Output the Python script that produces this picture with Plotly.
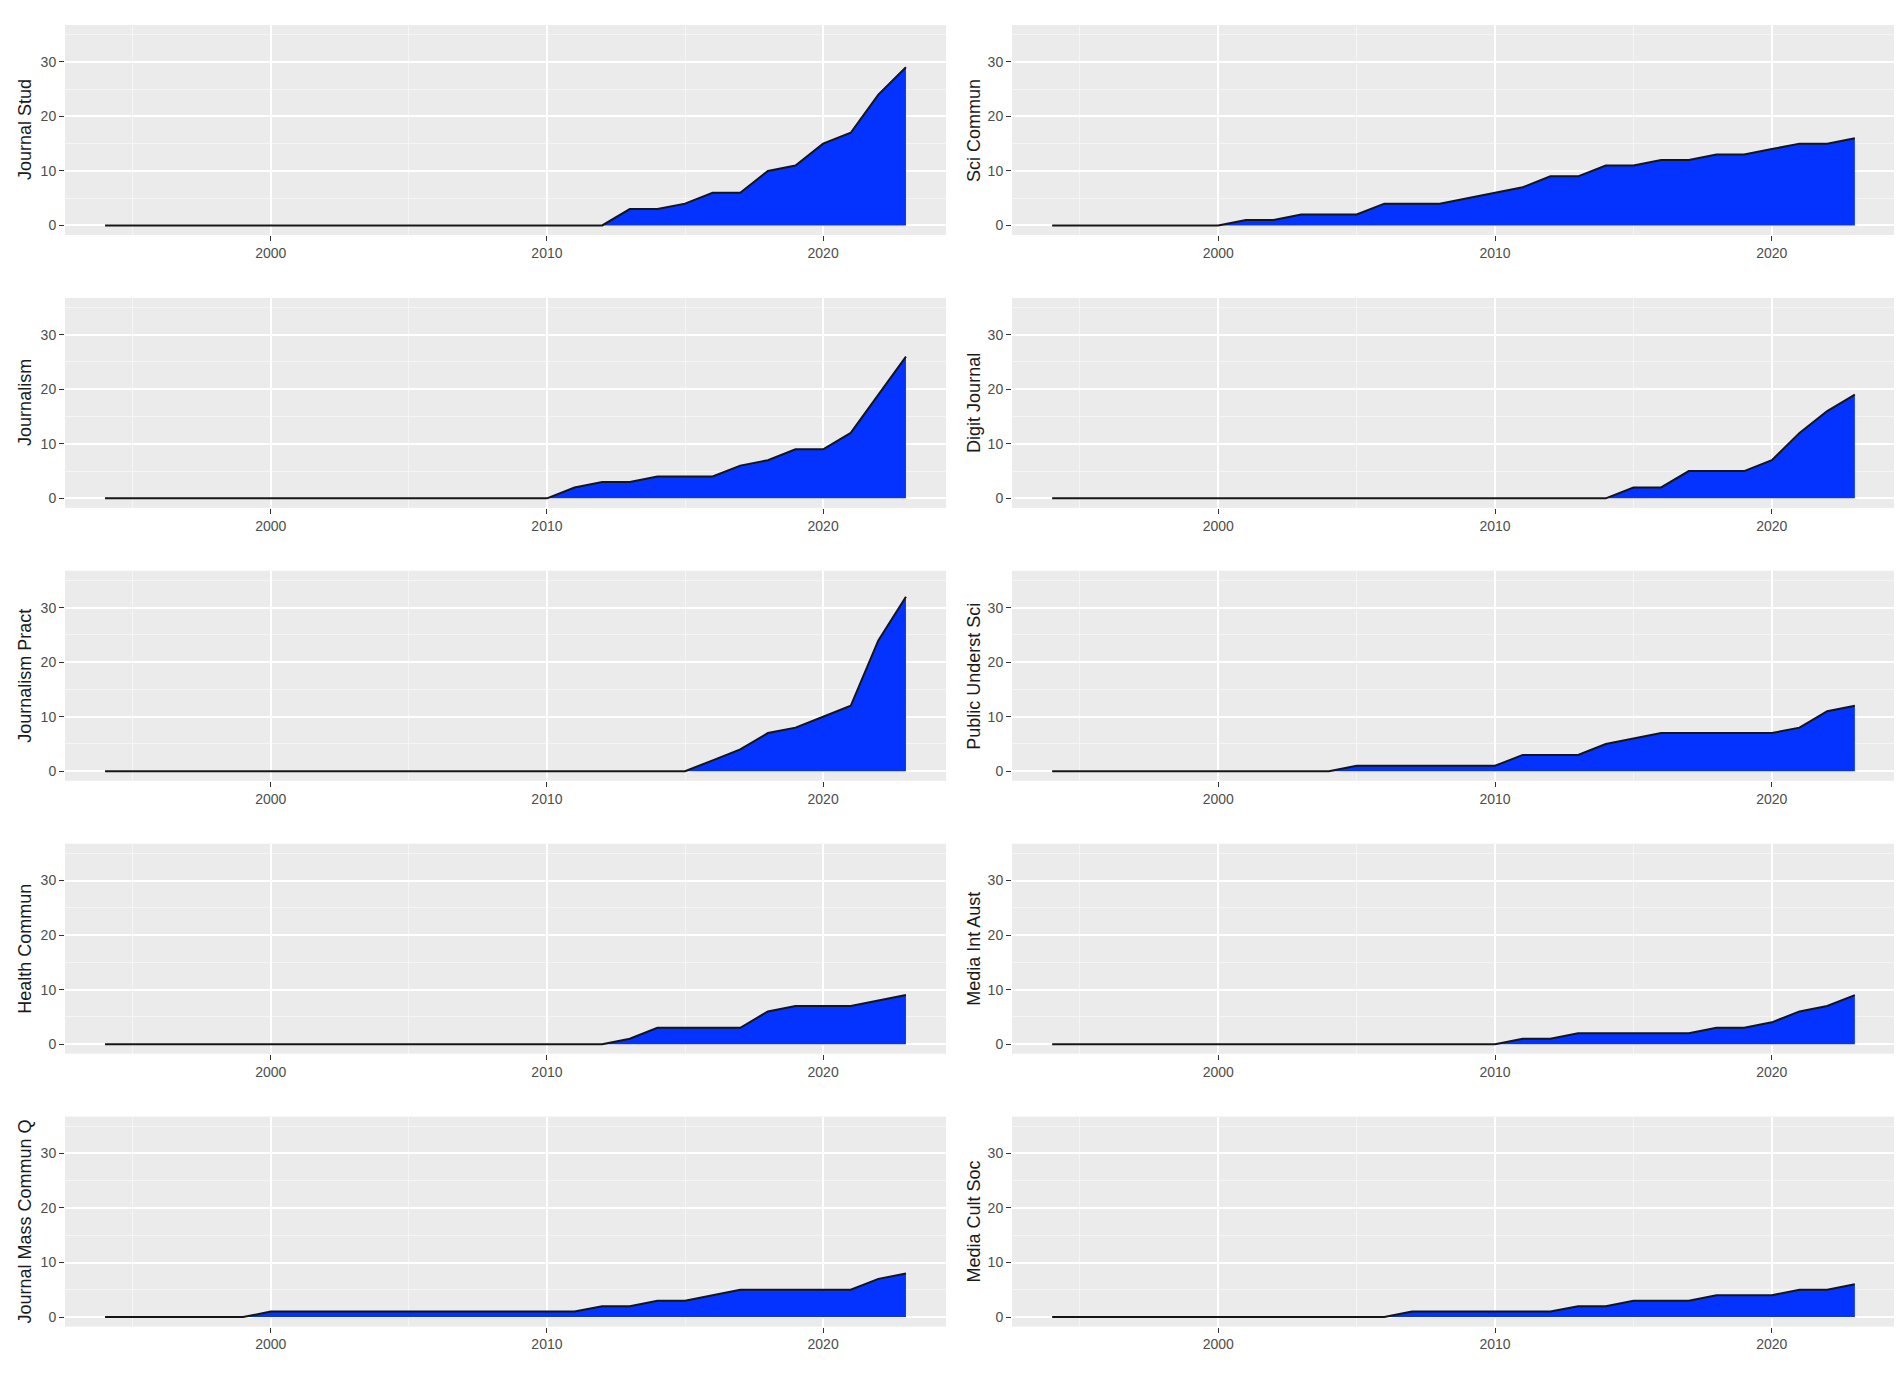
import plotly.graph_objects as go

W, H = 1902, 1375

years = list(range(1994, 2024))

journals = [
    "Journal Stud", "Sci Commun",
    "Journalism", "Digit Journal",
    "Journalism Pract", "Public Underst Sci",
    "Health Commun", "Media Int Aust",
    "Journal Mass Commun Q", "Media Cult Soc",
]

# cumulative counts, 1994..2023
journal_stud = [0]*19 + [3, 3, 4, 6, 6, 10, 11, 15, 17, 24, 29]
sci_commun = [0]*7 + [1, 1, 2, 2, 2, 4, 4, 4, 5, 6, 7, 9, 9, 11, 11, 12, 12, 13, 13, 14, 15, 15, 16]
journalism = [0]*17 + [2, 3, 3, 4, 4, 4, 6, 7, 9, 9, 12, 19, 26]
digit_journal = [0]*21 + [2, 2, 5, 5, 5, 7, 12, 16, 19]
journalism_pract = [0]*22 + [2, 4, 7, 8, 10, 12, 24, 32]
public_underst_sci = [0]*11 + [1, 1, 1, 1, 1, 1, 3, 3, 3, 5, 6, 7, 7, 7, 7, 7, 8, 11, 12]
health_commun = [0]*19 + [1, 3, 3, 3, 3, 6, 7, 7, 7, 8, 9]
media_int_aust = [0]*17 + [1, 1, 2, 2, 2, 2, 2, 3, 3, 4, 6, 7, 9]
journal_mass_commun_q = [0]*6 + [1]*12 + [2, 2, 3, 3, 4, 5, 5, 5, 5, 5, 7, 8]
media_cult_soc = [0]*13 + [1]*6 + [2, 2, 3, 3, 3, 4, 4, 4, 5, 5, 6]

series = [journal_stud, sci_commun, journalism, digit_journal, journalism_pract,
          public_underst_sci, health_commun, media_int_aust,
          journal_mass_commun_q, media_cult_soc]

x_ticks = [2000, 2010, 2020]
y_ticks = [0, 10, 20, 30]

fig = go.Figure()

col_px = [(57, 938), (1004, 1887)]
title_x_px = [17, 966]
row_top0, row_step, row_h = 17, 272.9, 210

layout_axes = {}
annotations = []
tick_font = dict(family="Liberation Sans, Arial", size=14, color="#4D4D4D")
for i, (name, vals) in enumerate(zip(journals, series)):
    r, c = divmod(i, 2)
    idx = i + 1
    xa = "x" if idx == 1 else f"x{idx}"
    ya = "y" if idx == 1 else f"y{idx}"
    fig.add_trace(go.Scatter(
        x=years, y=vals, mode="lines",
        line=dict(color="#151515", width=2),
        fill="tozeroy", fillcolor="#0433FF",
        xaxis=xa, yaxis=ya, showlegend=False, hoverinfo="x+y",
    ))
    top = row_top0 + r * row_step
    bot = top + row_h
    x0, x1 = col_px[c]
    xkey = "xaxis" if idx == 1 else f"xaxis{idx}"
    ykey = "yaxis" if idx == 1 else f"yaxis{idx}"
    layout_axes[xkey] = dict(
        domain=[x0 / W, x1 / W], anchor=ya,
        range=[1992.55, 2024.45], tickvals=x_ticks,
        showgrid=True, gridcolor="white", gridwidth=1.6,
        minor=dict(tickvals=[1995, 2005, 2015], showgrid=True,
                   gridcolor="#F5F5F5", gridwidth=0.8, ticks=""),
        zeroline=False, showline=False,
        ticks="outside", ticklen=5, tickwidth=1.2, tickcolor="#333333",
        tickfont=tick_font,
    )
    layout_axes[ykey] = dict(
        domain=[1 - bot / H, 1 - top / H], anchor=xa,
        range=[-1.75, 36.75], tickvals=y_ticks,
        showgrid=True, gridcolor="white", gridwidth=1.6,
        minor=dict(tickvals=[5, 15, 25, 35], showgrid=True,
                   gridcolor="#F5F5F5", gridwidth=0.8, ticks=""),
        zeroline=False, showline=False,
        ticks="outside", ticklen=5, tickwidth=1.2, tickcolor="#333333",
        tickfont=tick_font,
    )
    annotations.append(dict(
        text=name, xref="paper", yref="paper",
        x=title_x_px[c] / W, y=1 - (top + bot) / 2 / H,
        xanchor="center", yanchor="middle", textangle=-90, showarrow=False,
        font=dict(family="Liberation Sans, Arial", size=18, color="#1A1A1A"),
    ))

fig.update_layout(
    width=W, height=H,
    margin=dict(l=0, r=0, t=0, b=0),
    paper_bgcolor="white", plot_bgcolor="#EBEBEB",
    annotations=annotations,
    shapes=[dict(type="line", xref="paper", yref="paper",
                 x0=1892 / W, x1=1892 / W, y0=1 - 1365 / H, y1=1,
                 line=dict(color="#E6E6E6", width=1.5))],
    **layout_axes,
)

fig.write_html("out.html")
